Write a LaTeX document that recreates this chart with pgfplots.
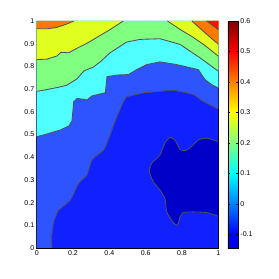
\documentclass[border=0pt]{standalone}
\usepackage{fontspec}
\setmainfont{Liberation Sans}
\usepackage{pgfplots}
\pgfplotsset{compat=1.18}
\definecolor{cDark}{RGB}{0,0,200}
\definecolor{cBlue}{RGB}{16,32,255}
\definecolor{cMed}{RGB}{46,84,255}
\definecolor{cCyan}{RGB}{80,255,255}
\definecolor{cGreen}{RGB}{128,255,128}
\definecolor{cYellow}{RGB}{224,255,32}
\definecolor{cOrange}{RGB}{255,120,0}
\definecolor{cRed}{RGB}{255,16,0}
\definecolor{cLine}{RGB}{80,80,85}
\begin{document}
\begin{tikzpicture}
\path[use as bounding box] (0,0) rectangle (279pt,279pt);
\begin{axis}[
  at={(36.7pt,31pt)}, anchor=south west,
  scale only axis, width=181.6pt, height=227pt,
  xmin=0, xmax=1, ymin=0, ymax=1,
  xtick={0,0.2,...,1}, ytick={0,0.1,...,1},
  tick align=inside, major tick length=2.5pt,
  tick style={black, line width=0.4pt},
  axis line style={black, line width=0.5pt},
  /pgf/number format/assume math mode=true,
  ticklabel style={font=\fontsize{7}{8}\selectfont},
  xticklabel style={yshift=1pt},
  yticklabel style={xshift=1pt},
  colormap={mycm}{rgb255(0pt)=(0,0,225) rgb255(45pt)=(0,0,255) rgb255(245pt)=(0,255,255) rgb255(445pt)=(255,255,0) rgb255(645pt)=(255,0,0) rgb255(745pt)=(128,0,0)},
  point meta min=-0.145, point meta max=0.6,
  colorbar,
  colorbar style={
    at={(1.053,1)}, anchor=north west,
    width=10pt,
    ytick={-0.1,0,0.1,0.2,0.3,0.4,0.5,0.6},
    tick align=inside, major tick length=2pt,
    ytick pos=both, yticklabel pos=right,
    /pgf/number format/assume math mode=true,
    yticklabel style={font=\fontsize{7}{8}\selectfont, xshift=-1pt},
    axis line style={black, line width=0.5pt},
  },
]
% background: central blue
\addplot[fill=cBlue, draw=none] coordinates {(0,0) (1,0) (1,1) (0,1)};
% medium blue
\addplot[fill=cMed, draw=none] coordinates {(0.084,0) (0.082,0.05) (0.095,0.12) (0.121,0.167) (0.185,0.211) (0.231,0.285) (0.277,0.322) (0.304,0.388) (0.369,0.432) (0.40,0.49) (0.431,0.558) (0.475,0.64) (0.495,0.668) (0.505,0.668) (0.587,0.683) (0.679,0.690) (0.752,0.695) (0.862,0.676) (0.917,0.646) (1,0.612) (1,1) (0,1) (0,0)};
% dark blue
\addplot[fill=cDark, draw=none] coordinates {(1,0.469) (0.936,0.484) (0.89,0.476) (0.853,0.447) (0.817,0.429) (0.789,0.435) (0.761,0.476) (0.734,0.488) (0.706,0.462) (0.679,0.41) (0.633,0.373) (0.62,0.336) (0.642,0.292) (0.679,0.255) (0.706,0.218) (0.716,0.159) (0.743,0.122) (0.761,0.105) (0.771,0.1) (0.78,0.108) (0.789,0.137) (0.807,0.156) (0.862,0.159) (0.936,0.156) (1,0.14)};
% cyan
\addplot[fill=cCyan, draw=none] coordinates {(0,0.49) (0.055,0.502) (0.13,0.52) (0.178,0.538) (0.194,0.56) (0.204,0.645) (0.222,0.659) (0.259,0.655) (0.277,0.652) (0.304,0.67) (0.378,0.684) (0.387,0.755) (0.442,0.762) (0.505,0.764) (0.550,0.786) (0.606,0.808) (0.679,0.820) (0.771,0.808) (0.890,0.786) (0.927,0.742) (0.963,0.720) (1,0.705) (1,1) (0,1)};
% green
\addplot[fill=cGreen, draw=none] coordinates {(0,0.69) (0.037,0.695) (0.119,0.708) (0.165,0.717) (0.222,0.745) (0.26,0.78) (0.312,0.797) (0.35,0.82) (0.404,0.860) (0.495,0.907) (0.569,0.919) (0.679,0.922) (0.789,0.897) (0.899,0.838) (1,0.779) (1,1) (0,1)};
% yellow left
\addplot[fill=cYellow, draw=none] coordinates {(0,0.83) (0.057,0.832) (0.112,0.846) (0.134,0.862) (0.176,0.86) (0.222,0.88) (0.277,0.902) (0.332,0.928) (0.40,0.96) (0.477,1) (0,1)};
% yellow right
\addplot[fill=cYellow, draw=none] coordinates {(0.72,1) (0.789,0.963) (0.862,0.928) (0.93,0.89) (1,0.845) (1,1)};
% orange left
\addplot[fill=cOrange, draw=none] coordinates {(0,0.966) (0.06,0.966) (0.112,0.972) (0.167,0.987) (0.204,1) (0,1)};
% orange right
\addplot[fill=cOrange, draw=none] coordinates {(0.855,1) (0.91,0.96) (0.96,0.925) (1,0.898) (1,1)};
% red
\addplot[fill=cRed, draw=none] coordinates {(0.936,1) (0.97,0.98) (1,0.962) (1,1)};
% contour lines
\addplot[cLine, line width=0.85pt, smooth, tension=0.4] coordinates {(0.084,0) (0.082,0.05) (0.095,0.12) (0.121,0.167) (0.185,0.211) (0.231,0.285) (0.277,0.322) (0.304,0.388) (0.369,0.432) (0.40,0.49) (0.431,0.558) (0.475,0.64) (0.495,0.668) (0.505,0.668) (0.587,0.683) (0.679,0.690) (0.752,0.695) (0.862,0.676) (0.917,0.646) (1,0.612)};
\addplot[cLine, line width=0.85pt, smooth, tension=0.4] coordinates {(1,0.469) (0.936,0.484) (0.89,0.476) (0.853,0.447) (0.817,0.429) (0.789,0.435) (0.761,0.476) (0.734,0.488) (0.706,0.462) (0.679,0.41) (0.633,0.373) (0.62,0.336) (0.642,0.292) (0.679,0.255) (0.706,0.218) (0.716,0.159) (0.743,0.122) (0.761,0.105) (0.771,0.1) (0.78,0.108) (0.789,0.137) (0.807,0.156) (0.862,0.159) (0.936,0.156) (1,0.14)};
\addplot[cLine, line width=0.85pt] coordinates {(0,0.49) (0.055,0.502) (0.13,0.52) (0.178,0.538) (0.194,0.56) (0.204,0.645) (0.222,0.659) (0.259,0.655) (0.277,0.652) (0.304,0.67) (0.378,0.684) (0.387,0.755) (0.442,0.762) (0.505,0.764) (0.550,0.786) (0.606,0.808) (0.679,0.820) (0.771,0.808) (0.890,0.786) (0.927,0.742) (0.963,0.720) (1,0.705)};
\addplot[cLine, line width=0.85pt] coordinates {(0,0.69) (0.037,0.695) (0.119,0.708) (0.165,0.717) (0.222,0.745) (0.26,0.78) (0.312,0.797) (0.35,0.82) (0.404,0.860) (0.495,0.907) (0.569,0.919) (0.679,0.922) (0.789,0.897) (0.899,0.838) (1,0.779)};
\addplot[cLine, line width=0.85pt] coordinates {(0,0.83) (0.057,0.832) (0.112,0.846) (0.134,0.862) (0.176,0.86) (0.222,0.88) (0.277,0.902) (0.332,0.928) (0.40,0.96) (0.477,1)};
\addplot[cLine, line width=0.85pt] coordinates {(0.72,1) (0.789,0.963) (0.862,0.928) (0.93,0.89) (1,0.845)};
\addplot[cLine, line width=0.85pt] coordinates {(0,0.966) (0.06,0.966) (0.112,0.972) (0.167,0.987) (0.204,1)};
\addplot[cLine, line width=0.85pt] coordinates {(0.855,1) (0.91,0.96) (0.96,0.925) (1,0.898)};
\addplot[cLine, line width=0.85pt] coordinates {(0.936,1) (0.97,0.98) (1,0.962)};
\end{axis}
\end{tikzpicture}
\end{document}
